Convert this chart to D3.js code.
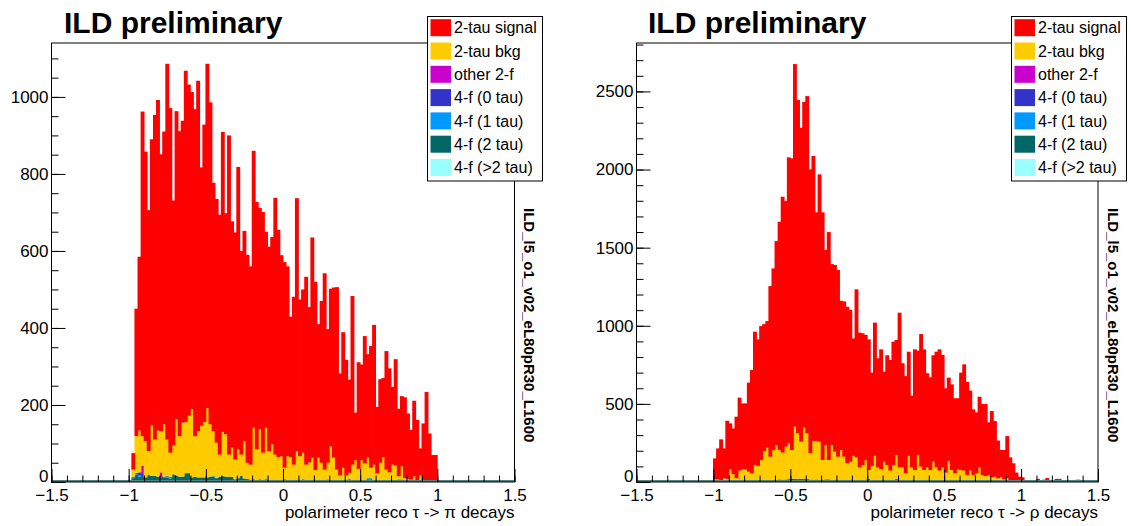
<!DOCTYPE html>
<html>
<head>
<meta charset="utf-8">
<script src="https://cdn.jsdelivr.net/npm/d3@7"></script>
<style>
  body { margin: 0; background: #fff; }
  svg text { font-family: "Liberation Sans", Arial, Helvetica, sans-serif; fill: #000; }
</style>
</head>
<body>
<div id="chart"></div>
<script>
// histogram binning: bins of 0.02 starting at x = -1
const binStart = -1;
const binWidth = 0.02;

const seriesNames = ["2-tau signal", "2-tau bkg", "other 2-f", "4-f (0 tau)", "4-f (1 tau)", "4-f (2 tau)", "4-f (>2 tau)"];
const seriesColors = ["#ff0000", "#ffcc00", "#cc00cc", "#3333cc", "#0099ff", "#006666", "#99ffff"];

const xTicks = [-1.5, -1, -0.5, 0, 0.5, 1, 1.5];
const piYTicks = [0, 200, 400, 600, 800, 1000];
const rhoYTicks = [0, 500, 1000, 1500, 2000, 2500];

// ---- tau -> pi ----
// height of the whole stack per bin (top of the red)
const piTotal = [
  0, 75, 450, 585, 962, 858, 706, 890, 953, 992,
  851, 910, 1086, 971, 731, 963, 911, 938, 1068, 1032,
  1013, 968, 1042, 817, 928, 1086, 986, 777, 735, 694,
  909, 698, 900, 677, 648, 818, 600, 652, 590, 560,
  860, 727, 712, 701, 650, 611, 636, 738, 655, 589,
  571, 560, 429, 481, 737, 474, 500, 533, 454, 635,
  520, 410, 470, 542, 397, 502, 505, 506, 282, 389,
  317, 266, 483, 180, 311, 305, 379, 332, 353, 408,
  195, 267, 270, 340, 295, 247, 319, 190, 223, 220,
  178, 135, 211, 161, 87, 152, 234, 126, 70, 70
];
// top of the yellow (everything except signal)
const piBkgTop = [
  0, 32, 119, 134, 119, 106, 80, 147, 110, 134,
  132, 150, 110, 76, 95, 163, 119, 154, 156, 172,
  189, 119, 132, 146, 156, 192, 150, 132, 102, 71,
  130, 124, 71, 89, 58, 85, 71, 106, 50, 45,
  141, 85, 137, 76, 141, 80, 98, 71, 65, 67,
  37, 67, 65, 45, 80, 67, 76, 45, 51, 63,
  31, 63, 50, 32, 50, 93, 63, 32, 17, 37,
  17, 24, 45, 57, 34, 57, 48, 63, 37, 45,
  22, 50, 65, 32, 25, 45, 43, 15, 41, 10,
  8, 6, 15, 4, 17, 3, 2, 2, 1, 1
];
const piOther2f = [
  0, 0, 0, 0, 22, 0, 0, 0, 0, 0,
  12, 3, 0, 0, 0, 0, 0, 0, 0, 0,
  0, 0, 0, 0, 0, 0, 0, 0, 0, 0,
  0, 0, 0, 0, 0, 0, 0, 0, 0, 0,
  0, 0, 0, 0, 0, 0, 0, 0, 0, 0,
  2, 0, 0, 0, 0, 0, 0, 0, 0, 0,
  0, 0, 0, 0, 0, 0, 0, 0, 0, 2
];
const piF4tau0 = [
  0, 0, 0, 8, 3, 0, 0, 0, 0, 0,
  2, 0, 0, 0, 0, 0, 0, 0, 0, 0,
  0, 0, 0, 0, 0, 0, 0, 0, 0, 0,
  2, 0, 0, 0, 0, 0, 0, 0, 0, 0,
  0, 0, 0, 0, 0, 0, 0, 0, 0, 0,
  0, 0, 0, 0, 0, 0, 0, 0, 0, 0,
  0, 0, 0, 0, 0, 0, 0, 0, 0, 0,
  0, 0, 0, 0, 0, 0, 0, 0, 0, 0,
  2, 0, 0, 0, 0, 0, 0, 0, 0, 0,
  0, 0, 3, 0, 0, 0, 0, 0, 0, 0
];
const piF4tau1 = [
  0, 4, 6, 3, 0, 0, 0, 0, 0, 0,
  0, 0, 5, 4, 0, 0, 0, 0, 0, 0,
  0, 0, 0, 0, 0, 0, 0, 3, 0, 0,
  0, 0, 0, 0, 0, 4, 0, 0, 0, 0,
  0, 0, 0, 0, 3, 0, 0, 0, 0, 0,
  0, 0, 0, 0, 0, 0, 3, 0, 0, 0,
  0, 0, 0, 0, 5, 0, 0, 0, 0, 0,
  0, 6, 0, 0, 0, 0, 0, 8, 8, 0,
  0, 0, 5, 0, 0, 0, 0, 6, 6, 4,
  0, 0, 0, 0, 4, 0, 0, 0, 0, 0
];
const piF4tau2 = [
  0, 10, 18, 14, 18, 12, 18, 16, 16, 14,
  11, 11, 11, 9, 20, 16, 14, 14, 23, 23,
  12, 14, 12, 12, 12, 12, 14, 14, 10, 14,
  14, 14, 13, 13, 7, 8, 16, 9, 8, 6,
  6, 5, 7, 5, 6, 5, 4, 6, 5, 4,
  6, 4, 5, 3, 4, 5, 6, 4, 3, 4,
  5, 3, 4, 3, 2, 4, 3, 3, 2, 3,
  2, 3, 2, 3, 2, 2, 3, 2, 2, 3,
  2, 2, 1, 2, 2, 1, 2, 1, 1, 2,
  1, 1, 1, 1, 0, 1, 0, 0, 0, 0
];
const piF4tau3 = [
  0, 0, 0, 0, 0, 0, 0, 0, 0, 0,
  0, 0, 0, 0, 0, 1, 0, 0, 0, 0,
  0, 0, 0, 0, 0, 0, 0, 0, 0, 0,
  0, 0, 0, 0, 0, 0, 0, 0, 0, 0,
  1, 0, 0, 0, 0, 0, 0, 0, 0, 0
];

// ---- tau -> rho ----
const rhoTotal = [
  151, 215, 273, 215, 392, 375, 343, 418, 540, 503,
  503, 636, 717, 962, 913, 998, 1011, 1030, 1254, 1367,
  1542, 1666, 1826, 1798, 2078, 2072, 2675, 2445, 2268, 2434,
  2470, 2001, 2087, 1726, 1969, 1726, 1485, 1600, 1395, 1389,
  1357, 1160, 1156, 1122, 1101, 919, 1233, 956, 952, 941,
  913, 700, 1020, 792, 849, 706, 811, 781, 898, 909,
  1084, 760, 678, 834, 553, 849, 841, 947, 849, 696,
  670, 811, 834, 849, 813, 600, 668, 625, 536, 536,
  700, 753, 640, 585, 465, 446, 546, 499, 499, 382,
  454, 390, 265, 205, 205, 294, 158, 120, 60, 34,
  30, 0, 8, 0, 0, 20, 0, 15, 25, 0,
  0, 20, 20, 0, 0, 0, 0, 0, 15, 0,
  10, 0, 0, 0, 12
];
const rhoBkgTop = [
  17, 17, 13, 24, 20, 81, 51, 24, 73, 81,
  81, 66, 56, 109, 103, 141, 198, 220, 162, 205,
  235, 205, 188, 226, 248, 205, 354, 312, 258, 348,
  312, 184, 263, 263, 258, 141, 237, 141, 237, 194,
  162, 205, 162, 120, 130, 167, 158, 94, 109, 141,
  77, 103, 167, 94, 81, 130, 109, 73, 109, 173,
  94, 94, 56, 167, 94, 77, 173, 98, 77, 94,
  77, 130, 94, 73, 94, 60, 135, 77, 56, 81,
  77, 73, 45, 73, 45, 56, 94, 45, 38, 45,
  30, 34, 24, 30, 17, 24, 13, 9, 9, 2,
  5, 0, 8
];
const rhoOther2f = [
  0, 0, 0, 0, 0, 0, 0, 0, 0, 0,
  0, 0, 0, 0, 0, 0, 0, 0, 0, 0,
  0, 0, 0, 0, 0, 0, 0, 0, 0, 0,
  2, 0, 0, 0, 0, 0, 0, 0, 0, 0,
  0, 0, 0, 0, 0, 0, 0, 0, 0, 10,
  14
];
const rhoF4tau0 = [
  0, 0, 0, 0, 0, 0, 0, 0, 0, 0,
  0, 0, 0, 0, 0, 0, 3, 0, 0, 0,
  0, 0, 0, 0, 0, 0, 0, 3, 0, 0,
  0, 0, 0, 0, 0, 0, 0, 0, 0, 0,
  0, 0, 0, 0, 0, 0, 0, 0, 0, 0,
  0, 0, 0, 0, 0, 0, 0, 0, 0, 14,
  6
];
const rhoF4tau1 = [
  0, 0, 0, 0, 0, 0, 0, 0, 0, 0,
  0, 0, 0, 0, 0, 0, 0, 0, 0, 0,
  0, 4, 0, 0, 0, 0, 0, 0, 0, 0,
  0, 0, 0, 0, 0, 0, 6, 8, 0, 0,
  0, 0, 0, 0, 3, 0, 0, 0, 0, 0,
  0, 0, 0, 4, 0, 0, 0, 0, 0, 0,
  0, 0, 3, 0, 0, 0, 0, 0, 0, 0,
  4, 0, 0, 0, 0, 0, 0, 0, 0, 0,
  4, 0, 0, 0, 0, 0, 0, 0, 0, 0,
  0, 0, 0, 0, 0, 10, 12, 6, 0, 0
];
const rhoF4tau2 = [
  2, 2, 3, 3, 3, 4, 4, 5, 5, 5,
  6, 6, 7, 8, 8, 8, 10, 10, 12, 12,
  14, 14, 15, 16, 18, 20, 20, 18, 20, 20,
  18, 16, 15, 15, 14, 12, 12, 10, 10, 9,
  9, 8, 8, 8, 7, 7, 7, 6, 6, 6,
  5, 6, 5, 5, 5, 6, 5, 5, 4, 5,
  5, 4, 4, 4, 5, 4, 4, 3, 4, 3,
  3, 3, 4, 3, 3, 3, 2, 3, 3, 2,
  2, 2, 3, 2, 2, 2, 2, 2, 1, 2,
  1, 1, 1, 1, 1, 1, 1, 0, 0, 0
];
const rhoF4tau3 = [
  0, 0, 0, 0, 0, 0, 0, 0, 0, 0,
  0, 0, 0, 0, 0, 0, 0, 0, 0, 0,
  0, 0, 0, 0, 0, 2, 0, 0, 0, 0,
  0, 0, 0, 1
];

const width = 1131, height = 526;
const frameTop = 43, frameBottom = 482;
const fmtX = d3.format("~g");

const svg = d3.select("#chart").append("svg")
  .attr("width", width)
  .attr("height", height);

// one record per bin, split into the stacked layers (bottom to top)
const layerKeys = ["f4tau3", "f4tau2", "f4tau1", "f4tau0", "other", "bkg", "sig"];
const layerColor = {
  sig: seriesColors[0], bkg: seriesColors[1], other: seriesColors[2],
  f4tau0: seriesColors[3], f4tau1: seriesColors[4], f4tau2: seriesColors[5], f4tau3: seriesColors[6]
};

function makeRows(p) {
  return p.total.map((tot, i) => {
    const r = {
      x0: binStart + i * binWidth,
      f4tau3: p.f4tau3[i] || 0,
      f4tau2: p.f4tau2[i] || 0,
      f4tau1: p.f4tau1[i] || 0,
      f4tau0: p.f4tau0[i] || 0,
      other: p.other[i] || 0
    };
    const small = r.f4tau3 + r.f4tau2 + r.f4tau1 + r.f4tau0 + r.other;
    const bkgTop = Math.max(p.bkgTop[i] || 0, small);
    r.bkg = bkgTop - small;
    r.sig = Math.max(0, tot - bkgTop);
    return r;
  });
}

function drawPanel(p) {
  const x = d3.scaleLinear().domain([-1.5, 1.5]).range([p.left, p.right]);
  const y = d3.scaleLinear().domain([0, p.yMax]).range([frameBottom, frameTop]);
  const g = svg.append("g");

  // stacked histogram (bars overlap a little so no seams show)
  const stacked = d3.stack().keys(layerKeys)(makeRows(p));
  const bw = x(binWidth) - x(0);
  g.append("g").selectAll("g")
    .data(stacked)
    .join("g")
      .attr("fill", d => layerColor[d.key])
    .selectAll("rect")
    .data(d => d.filter(s => s[1] > s[0]))
    .join("rect")
      .attr("x", s => x(s.data.x0) - 0.4)
      .attr("width", bw + 0.8)
      .attr("y", s => y(s[1]))
      .attr("height", s => y(s[0]) - y(s[1]));

  // histogram outline along zero
  g.append("line")
    .attr("x1", p.left).attr("x2", p.right)
    .attr("y1", frameBottom - 1).attr("y2", frameBottom - 1)
    .attr("stroke", "#4f8383").attr("stroke-width", 2);

  // x axis, ticks pointing inward
  const xMinor = d3.range(-15, 16).map(k => k / 10);
  g.append("g")
    .attr("transform", `translate(0,${frameBottom})`)
    .call(d3.axisBottom(x).tickValues(xMinor).tickSizeInner(-6.5).tickSizeOuter(0).tickFormat(""))
    .call(a => a.select(".domain").remove());
  g.append("g")
    .attr("transform", `translate(0,${frameBottom})`)
    .call(d3.axisBottom(x).tickValues(xTicks).tickSizeInner(-13).tickSizeOuter(0)
      .tickPadding(7).tickFormat(fmtX))
    .call(a => a.select(".domain").remove())
    .call(a => a.selectAll("text").attr("font-size", 17).attr("font-family", null));

  // y axis
  const yMinor = d3.range(0, p.yMax, p.yMinorStep);
  g.append("g")
    .attr("transform", `translate(${p.left},0)`)
    .call(d3.axisLeft(y).tickValues(yMinor).tickSizeInner(-7).tickSizeOuter(0).tickFormat(""))
    .call(a => a.select(".domain").remove());
  g.append("g")
    .attr("transform", `translate(${p.left},0)`)
    .call(d3.axisLeft(y).tickValues(p.yTicks).tickSizeInner(-14).tickSizeOuter(0)
      .tickPadding(3).tickFormat(d3.format("d")))
    .call(a => a.select(".domain").remove())
    .call(a => a.selectAll("text").attr("font-size", 17).attr("font-family", null))
    // the zero label sits just above the x labels
    .call(a => a.selectAll("text").filter(d => d === 0).attr("dy", "-0.03em"));

  g.selectAll(".tick line").attr("stroke", "#000");

  // frame
  g.append("rect")
    .attr("x", p.left).attr("y", frameTop)
    .attr("width", p.right - p.left).attr("height", frameBottom - frameTop)
    .attr("fill", "none").attr("stroke", "#000").attr("stroke-width", 1);

  // title and axis label
  g.append("text")
    .attr("x", p.titleX).attr("y", 33)
    .attr("font-size", 30).attr("font-weight", "bold")
    .text("ILD preliminary");
  g.append("text")
    .attr("x", p.right).attr("y", 518)
    .attr("text-anchor", "end").attr("font-size", 17)
    .text(p.xLabel);

  // rotated sample tag
  g.append("text")
    .attr("transform", `translate(${p.tagX},208) rotate(90)`)
    .attr("font-size", 15).attr("font-weight", "bold")
    .text("ILD_l5_o1_v02_eL80pR30_L1600");

  // legend
  const leg = g.append("g").attr("transform", `translate(${p.legX},16)`);
  leg.append("rect")
    .attr("x", 0.5).attr("y", 0.5).attr("width", 115).attr("height", 164.5)
    .attr("fill", "#fff").attr("stroke", "#000").attr("stroke-width", 1);
  const entry = leg.selectAll("g.entry")
    .data(seriesNames)
    .join("g")
      .attr("class", "entry")
      .attr("transform", (d, k) => `translate(0,${11.7 + 23.3 * k})`);
  entry.append("rect")
    .attr("x", 3.5).attr("y", -8.5).attr("width", 20.5).attr("height", 17)
    .attr("fill", (d, k) => seriesColors[k]);
  entry.append("text")
    .attr("x", 27).attr("y", 5.6)
    .attr("font-size", 16)
    .text(d => d);
}

drawPanel({
  left: 51.5, right: 514.5, yMax: 1140, yTicks: piYTicks, yMinorStep: 50,
  total: piTotal, bkgTop: piBkgTop, other: piOther2f,
  f4tau0: piF4tau0, f4tau1: piF4tau1, f4tau2: piF4tau2, f4tau3: piF4tau3,
  titleX: 64, tagX: 524, legX: 427,
  xLabel: "polarimeter reco \u03c4 -> \u03c0 decays"
});

drawPanel({
  left: 636.5, right: 1098, yMax: 2810, yTicks: rhoYTicks, yMinorStep: 100,
  total: rhoTotal, bkgTop: rhoBkgTop, other: rhoOther2f,
  f4tau0: rhoF4tau0, f4tau1: rhoF4tau1, f4tau2: rhoF4tau2, f4tau3: rhoF4tau3,
  titleX: 648, tagX: 1108, legX: 1011,
  xLabel: "polarimeter reco \u03c4 -> \u03c1 decays"
});
</script>
</body>
</html>
